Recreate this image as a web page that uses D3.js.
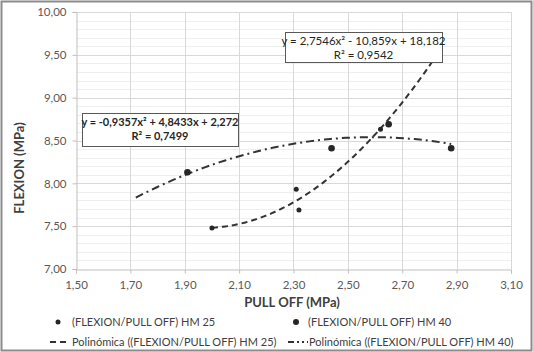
<!DOCTYPE html>
<html>
<head>
<meta charset="utf-8">
<script src="https://cdn.jsdelivr.net/npm/d3@7.9.0/dist/d3.min.js"></script>
<style>
  html, body { margin: 0; padding: 0; background: #fff; }
  svg { display: block; font-family: Lato, "Open Sans", sans-serif; }
</style>
</head>
<body>
<svg id="chart" width="533" height="352"></svg>
<script>
// data
const hm25X = [2.00, 2.31, 2.32, 2.62];
const hm25Y = [7.48, 7.93, 7.69, 8.63];
const hm40X = [1.91, 2.44, 2.65, 2.88];
const hm40Y = [8.13, 8.41, 8.69, 8.41];

// trendline coefficients (a, b, c) as printed on the chart, and drawn range
const fit25 = [2.7546, -10.859, 18.182];
const fit40 = [-0.9357, 4.8433, 2.272];
const range25 = [2.00, 2.82];
const range40 = [1.72, 2.88];

const eq25 = ["y = 2,7546x² - 10,859x + 18,182", "R² = 0,9542"];
const eq40 = ["y = -0,9357x² + 4,8433x + 2,272", "R² = 0,7499"];

const xTicks = [1.5, 1.7, 1.9, 2.1, 2.3, 2.5, 2.7, 2.9, 3.1];
const yTicks = [7.0, 7.5, 8.0, 8.5, 9.0, 9.5, 10.0];
const legendLabels = [
  "(FLEXION/PULL OFF) HM 25",
  "(FLEXION/PULL OFF) HM 40",
  "Polinómica ((FLEXION/PULL OFF) HM 25)",
  "Polinómica ((FLEXION/PULL OFF) HM 40)"
];

const svg = d3.select("#chart");
const W = 533, H = 352;
const plot = { left: 76, right: 511, top: 12, bottom: 269 };

const x = d3.scaleLinear().domain([1.5, 3.1]).range([plot.left, plot.right]);
const y = d3.scaleLinear().domain([7, 10]).range([plot.bottom, plot.top]);
const fmt = d => d.toFixed(2).replace(".", ",");

// outer frame
svg.append("rect").attr("x", 1.5).attr("y", 1.5).attr("width", W - 3).attr("height", H - 3)
  .attr("fill", "#fff").attr("stroke", "#8c8c8c").attr("stroke-width", 2);

// minor horizontal grid every 0.1
const minor = d3.range(7.1, 10, 0.1).filter(v => Math.abs(v * 2 - Math.round(v * 2)) > 0.01);
svg.append("g").selectAll("line").data(minor).join("line")
  .attr("x1", plot.left).attr("x2", plot.right)
  .attr("y1", d => Math.round(y(d)) + 0.5).attr("y2", d => Math.round(y(d)) + 0.5)
  .attr("stroke", "#efefef");

// major grid
svg.append("g").selectAll("line").data(yTicks.slice(1)).join("line")
  .attr("x1", plot.left).attr("x2", plot.right)
  .attr("y1", d => Math.round(y(d)) + 0.5).attr("y2", d => Math.round(y(d)) + 0.5)
  .attr("stroke", "#d9d9d9");
svg.append("g").selectAll("line").data(xTicks.slice(1)).join("line")
  .attr("y1", plot.top).attr("y2", plot.bottom)
  .attr("x1", d => Math.round(x(d)) + 0.5).attr("x2", d => Math.round(x(d)) + 0.5)
  .attr("stroke", "#d9d9d9");

// axes
const xAxis = svg.append("g").attr("transform", `translate(0,${plot.bottom + 0.5})`)
  .call(d3.axisBottom(x).tickValues(xTicks).tickFormat(fmt).tickSize(4).tickPadding(7));
const yAxis = svg.append("g").attr("transform", `translate(${plot.left + 0.5},0)`)
  .call(d3.axisLeft(y).tickValues(yTicks).tickFormat(fmt).tickSize(4).tickPadding(6));
[xAxis, yAxis].forEach(a => {
  a.select(".domain").attr("stroke", "#bfbfbf");
  a.selectAll(".tick line").attr("stroke", "#bfbfbf");
  a.selectAll(".tick text").attr("fill", "#595959").style("font-size", "11.5px")
    .style("font-family", "Lato, sans-serif");
});

// axis titles
svg.append("text").attr("x", 292).attr("y", 307).attr("text-anchor", "middle")
  .attr("fill", "#404040").style("font-size", "13px").style("font-weight", "bold")
  .text("PULL OFF (MPa)");
svg.append("text").attr("transform", `translate(24,168) rotate(-90)`)
  .attr("text-anchor", "middle").attr("fill", "#404040")
  .style("font-size", "13px").style("font-weight", "bold")
  .text("FLEXION (MPa)");

// trendlines
function curve(coef, range) {
  const pts = d3.range(0, 61).map(i => {
    const v = range[0] + (range[1] - range[0]) * i / 60;
    return [v, coef[0] * v * v + coef[1] * v + coef[2]];
  });
  return d3.line().x(d => x(d[0])).y(d => y(d[1]))(pts);
}
svg.append("path").attr("d", curve(fit25, range25)).attr("fill", "none")
  .attr("stroke", "#333").attr("stroke-width", 2).attr("stroke-dasharray", "6,4");
svg.append("path").attr("d", curve(fit40, range40)).attr("fill", "none")
  .attr("stroke", "#333").attr("stroke-width", 2).attr("stroke-dasharray", "8,4,2,4");

// points
svg.append("g").selectAll("circle").data(d3.zip(hm25X, hm25Y)).join("circle")
  .attr("cx", d => x(d[0])).attr("cy", d => y(d[1])).attr("r", 2.5).attr("fill", "#262626");
svg.append("g").selectAll("circle").data(d3.zip(hm40X, hm40Y)).join("circle")
  .attr("cx", d => x(d[0])).attr("cy", d => y(d[1])).attr("r", 3.3).attr("fill", "#262626");

// equation boxes
function eqBox(lines, bx, by, bw, bh, bold) {
  const g = svg.append("g");
  g.append("rect").attr("x", bx + 0.5).attr("y", by + 0.5).attr("width", bw).attr("height", bh)
    .attr("fill", "#fff").attr("stroke", "#595959").attr("stroke-width", 1);
  lines.forEach((t, i) => {
    g.append("text").attr("x", bx + bw / 2).attr("y", by + 13 + i * 14)
      .attr("text-anchor", "middle").attr("fill", "#262626")
      .style("font-size", bold ? "11px" : "11.5px").style("font-weight", bold ? "bold" : "normal")
      .text(t);
  });
}
eqBox(eq40, 82, 113, 156, 33, true);
eqBox(eq25, 285, 32, 157, 30, false);

// legend
const leg = svg.append("g").style("font-size", "11px").attr("fill", "#404040");
const legPos = [[58, 322], [296, 322], [58, 342], [298, 342]];
leg.append("circle").attr("cx", legPos[0][0]).attr("cy", legPos[0][1]).attr("r", 2.5).attr("fill", "#262626");
leg.append("circle").attr("cx", legPos[1][0]).attr("cy", legPos[1][1]).attr("r", 3).attr("fill", "#262626");
leg.append("line").attr("x1", 50).attr("x2", 68).attr("y1", legPos[2][1]).attr("y2", legPos[2][1])
  .attr("stroke", "#333").attr("stroke-width", 2).attr("stroke-dasharray", "6,4");
leg.append("line").attr("x1", 288).attr("x2", 308).attr("y1", legPos[3][1]).attr("y2", legPos[3][1])
  .attr("stroke", "#333").attr("stroke-width", 2).attr("stroke-dasharray", "6,3,2,3,2,3");
const textX = [72, 308, 72, 309];
legendLabels.forEach((t, i) => {
  leg.append("text").attr("x", textX[i]).attr("y", legPos[i][1] + 4).text(t);
});
</script>
</body>
</html>
